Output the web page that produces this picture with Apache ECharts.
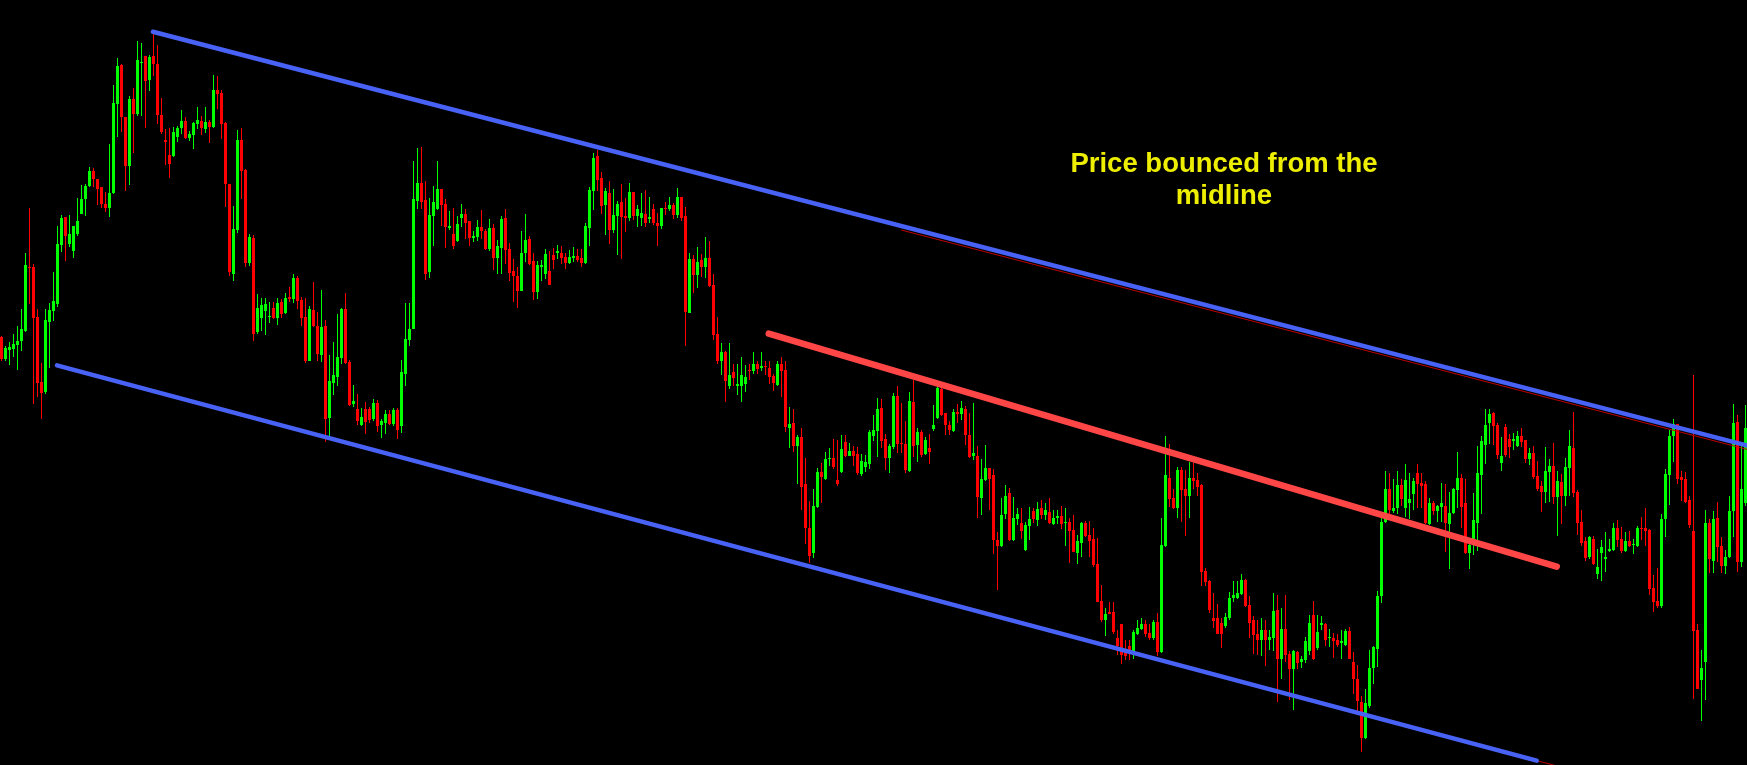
<!DOCTYPE html>
<html>
<head>
<meta charset="utf-8">
<script src="https://cdn.jsdelivr.net/npm/echarts@6/dist/echarts.min.js"></script>
<style>
html,body{margin:0;padding:0;background:#000;}
#chart{width:1747px;height:765px;}
</style>
</head>
<body>
<div id="chart"></div>
<script>
// Price data (points), one entry per bar
const openP = [
1710,1665,1684,1685,1694,1702,1723,1854,1853,1752,
1619,1597,1741,1763,1778,1898,1955,1900,1887,1920,
1962,1992,2020,2050,2033,2017,1982,1975,2004,2188,
2267,2160,2060,2198,2167,2271,2285,2237,2285,2270,
2165,2113,2082,2080,2119,2137,2152,2117,2123,2147,
2152,2136,2150,2140,2216,2209,2148,2023,1839,1929,
2113,2052,1862,1912,1720,1750,1763,1751,1769,1749,
1781,1759,1792,1787,1830,1785,1752,1660,1765,1732,
1673,1732,1545,1617,1629,1667,1767,1659,1572,1562,
1530,1562,1562,1542,1576,1530,1534,1552,1532,1560,
1527,1635,1703,1727,1988,2025,1990,1843,1957,1973,
2013,1982,1933,1920,1907,1953,1962,1947,1912,1914,
1935,1927,1890,1933,1871,1893,1953,1890,1845,1836,
1805,1882,1910,1865,1802,1853,1840,1845,1878,1882,
1883,1873,1861,1871,1876,1871,1862,1933,2010,2080,
2035,1980,2005,1929,1957,1986,1957,1953,2006,1957,
1953,1961,1951,1972,1943,1938,1974,1972,1980,1959,
1996,1957,1759,1869,1838,1867,1853,1871,1816,1717,
1660,1679,1610,1638,1610,1610,1613,1643,1640,1654,
1647,1650,1646,1630,1611,1654,1642,1523,1534,1488,
1506,1410,1319,1267,1363,1433,1420,1460,1463,1418,
1433,1496,1467,1476,1471,1430,1445,1451,1508,1517,
1564,1502,1463,1484,1590,1494,1492,1436,1578,1490,
1515,1471,1482,1521,1544,1603,1555,1531,1517,1557,
1553,1562,1510,1467,1467,1381,1418,1442,1427,1294,
1283,1347,1390,1295,1337,1330,1275,1323,1353,1335,
1360,1345,1352,1327,1340,1343,1330,1332,1315,1268,
1289,1329,1305,1296,1246,1169,1130,1147,1147,1093,
1123,1072,1077,1065,1103,1113,1123,1105,1093,1127,
1065,1282,1422,1380,1360,1437,1400,1385,1422,1417,
1407,1231,1210,1135,1135,1125,1118,1135,1175,1175,
1185,1212,1162,1130,1102,1089,1110,1089,1093,1152,
1050,1113,1062,1030,1065,1044,1048,1068,1142,1073,
1120,1122,1093,1095,1090,1083,1080,1108,1045,1010,
963,890,955,1032,1072,1180,1332,1400,1353,1360,
1408,1360,1370,1388,1432,1412,1410,1328,1370,1353,
1363,1365,1328,1350,1397,1422,1370,1268,1290,1330,
1427,1490,1534,1555,1531,1452,1525,1502,1498,1487,
1508,1500,1460,1472,1425,1405,1392,1433,1447,1383,
1413,1385,1443,1483,1392,1332,1292,1260,1297,1225,
1267,1255,1272,1275,1320,1297,1273,1292,1284,1282,
1320,1320,1315,1197,1170,1160,1337,1427,1507,1533,
1423,1420,1377,1313,1110,1008,1045,1330,1252,1340,
1282,1242,1260,1353,1537,1250,1370
];
const closeP = [
1665,1687,1689,1695,1702,1726,1857,1851,1750,1615,
1595,1745,1765,1783,1900,1953,1917,1922,1937,1948,
1992,2020,2050,2034,2013,1982,1974,2005,2190,2265,
2160,2060,2197,2167,2277,2273,2235,2283,2269,2165,
2129,2109,2065,2129,2139,2152,2117,2125,2148,2154,
2138,2150,2140,2216,2207,2147,2023,1843,1931,2113,
2050,1862,1914,1717,1769,1775,1777,1754,1749,1779,
1758,1789,1788,1830,1783,1750,1660,1767,1732,1675,
1730,1543,1621,1632,1669,1767,1656,1570,1580,1539,
1547,1536,1541,1576,1528,1538,1552,1532,1560,1520,
1638,1707,1726,1992,2025,1987,1840,1959,1986,2013,
1981,1935,1937,1897,1941,1962,1943,1912,1917,1935,
1928,1890,1933,1872,1897,1951,1889,1841,1835,1805,
1883,1908,1860,1802,1857,1857,1881,1817,1868,1886,
1872,1862,1873,1875,1867,1862,1938,2011,2077,2032,
1979,2010,1930,1959,1983,1956,1954,2006,1958,1972,
1965,1944,1955,1943,1937,1974,1972,1980,1959,1996,
1954,1762,1869,1837,1864,1853,1871,1814,1715,1660,
1679,1620,1633,1627,1613,1633,1629,1640,1655,1645,
1650,1648,1628,1615,1654,1640,1525,1532,1487,1506,
1403,1319,1262,1364,1433,1423,1460,1463,1445,1410,
1480,1467,1476,1467,1431,1457,1454,1515,1520,1562,
1498,1463,1486,1590,1492,1491,1437,1580,1488,1515,
1469,1500,1475,1531,1605,1551,1530,1520,1557,1553,
1564,1510,1465,1473,1382,1420,1443,1420,1295,1283,
1345,1385,1295,1340,1347,1312,1325,1337,1337,1359,
1345,1355,1330,1339,1343,1328,1332,1312,1270,1292,
1329,1302,1293,1243,1168,1130,1143,1144,1107,1078,
1060,1057,1065,1107,1115,1123,1103,1095,1127,1065,
1285,1427,1378,1360,1437,1397,1385,1422,1415,1403,
1230,1208,1152,1128,1103,1103,1137,1176,1182,1187,
1212,1160,1125,1100,1089,1110,1089,1097,1150,1050,
1113,1060,1030,1067,1043,1050,1088,1125,1050,1107,
1125,1090,1097,1087,1080,1087,1108,1052,1010,965,
890,960,1033,1075,1180,1332,1400,1355,1360,1407,
1378,1417,1378,1415,1410,1405,1330,1370,1353,1365,
1370,1330,1350,1400,1422,1363,1268,1285,1335,1432,
1498,1531,1552,1528,1468,1467,1468,1485,1502,1507,
1496,1460,1472,1423,1400,1392,1435,1447,1383,1415,
1385,1445,1488,1390,1330,1288,1258,1300,1245,1240,
1280,1260,1277,1320,1295,1273,1292,1283,1287,1320,
1317,1313,1195,1168,1160,1337,1429,1507,1533,1420,
1418,1373,1325,1108,990,1033,1330,1255,1338,1280,
1242,1260,1353,1535,1250,1400,1523
];
const lowP = [
1660,1662,1652,1670,1643,1682,1720,1778,1572,1588,
1542,1593,1647,1743,1772,1884,1865,1895,1872,1917,
1962,1958,2017,2018,1980,1975,1967,1955,2002,2120,
2130,2010,2022,2087,2163,2163,2138,2213,2245,2147,
2125,2063,2035,2078,2109,2125,2115,2111,2095,2135,
2124,2128,2107,2138,2177,2115,1977,1835,1824,1924,
1992,1853,1855,1702,1717,1723,1714,1738,1748,1735,
1749,1758,1782,1780,1768,1733,1657,1660,1730,1660,
1658,1495,1507,1592,1610,1655,1654,1568,1566,1530,
1528,1512,1535,1538,1515,1504,1511,1530,1528,1502,
1513,1610,1692,1727,1973,1973,1827,1830,1897,1970,
1938,1893,1930,1890,1904,1935,1910,1897,1905,1907,
1911,1888,1887,1848,1839,1839,1860,1825,1782,1770,
1805,1863,1858,1785,1787,1825,1828,1817,1850,1870,
1860,1849,1859,1863,1863,1853,1859,1897,1970,2009,
1962,1918,1900,1923,1879,1870,1925,1947,1950,1935,
1938,1935,1944,1939,1897,1931,1959,1969,1951,1954,
1948,1692,1759,1800,1810,1833,1830,1812,1705,1654,
1633,1577,1603,1610,1592,1578,1597,1622,1635,1635,
1640,1632,1613,1600,1609,1588,1515,1482,1474,1410,
1357,1287,1247,1257,1360,1370,1418,1447,1439,1405,
1432,1465,1466,1447,1428,1425,1433,1440,1497,1465,
1482,1437,1432,1480,1472,1473,1432,1433,1465,1454,
1465,1469,1450,1517,1542,1548,1509,1510,1515,1534,
1541,1490,1463,1458,1340,1345,1415,1357,1265,1192,
1280,1337,1292,1293,1325,1297,1272,1295,1330,1323,
1337,1335,1328,1325,1327,1318,1283,1248,1270,1245,
1260,1300,1260,1240,1168,1127,1098,1143,1103,1060,
1040,1048,1048,1052,1100,1110,1097,1090,1090,1057,
1063,1280,1362,1358,1340,1332,1303,1340,1400,1385,
1200,1200,1145,1115,1102,1073,1115,1130,1168,1173,
1182,1158,1095,1062,1060,1058,1037,1070,1068,963,
1010,1045,967,947,1030,1033,1043,1060,1048,1070,
1110,1078,1075,1053,1075,1050,1077,1050,980,945,
860,887,950,1000,1035,1165,1330,1348,1350,1348,
1364,1342,1338,1355,1360,1360,1328,1325,1345,1332,
1332,1270,1235,1348,1360,1320,1265,1235,1263,1273,
1348,1450,1492,1490,1460,1435,1465,1463,1478,1485,
1485,1452,1448,1420,1395,1352,1370,1372,1368,1302,
1327,1365,1385,1382,1305,1282,1252,1255,1243,1215,
1210,1230,1270,1273,1280,1268,1270,1280,1265,1280,
1295,1282,1182,1148,1155,1155,1300,1367,1455,1410,
1375,1370,1320,970,990,925,968,1228,1228,1250,
1228,1225,1258,1300,1230,1240,1365
];
const highP = [
1712,1692,1700,1717,1732,1768,1883,1974,1859,1768,
1657,1767,1780,1843,1937,1960,1955,1960,1937,1995,
2022,2024,2058,2057,2033,2017,2007,2105,2225,2281,
2270,2160,2203,2220,2316,2312,2285,2288,2330,2307,
2200,2135,2138,2140,2142,2175,2160,2132,2150,2180,
2162,2180,2154,2247,2245,2215,2150,2023,1978,2134,
2138,2055,1920,1918,1799,1789,1789,1781,1781,1789,
1787,1800,1812,1839,1834,1792,1790,1774,1822,1762,
1806,1744,1673,1700,1758,1770,1800,1663,1612,1594,
1564,1578,1566,1584,1582,1542,1560,1560,1565,1564,
1663,1779,1779,2070,2097,2100,2030,1994,2020,2070,
2013,1992,1968,1974,1957,1982,1972,1947,1927,1949,
1970,1932,1951,1942,1908,1957,1972,1902,1869,1854,
1927,1962,1917,1883,1865,1867,1890,1887,1893,1898,
1897,1882,1888,1894,1890,1891,1943,2017,2087,2092,
2048,2015,2030,2013,1989,2023,1995,2025,2006,1980,
2004,2011,1996,1982,1963,1974,1986,1996,1984,2016,
1996,1977,1883,1877,1894,1881,1914,1907,1840,1752,
1697,1681,1697,1655,1655,1670,1652,1655,1680,1662,
1680,1660,1660,1635,1662,1670,1662,1567,1562,1510,
1523,1462,1374,1399,1442,1452,1474,1482,1502,1500,
1510,1510,1493,1486,1484,1470,1469,1520,1550,1585,
1583,1512,1492,1595,1610,1575,1538,1598,1622,1523,
1520,1505,1512,1570,1612,1610,1555,1538,1563,1572,
1579,1568,1555,1575,1488,1460,1490,1442,1440,1310,
1380,1408,1402,1382,1360,1360,1332,1362,1360,1373,
1377,1370,1380,1357,1355,1365,1360,1340,1345,1305,
1332,1333,1333,1320,1298,1202,1155,1168,1167,1110,
1123,1090,1090,1110,1130,1134,1130,1123,1130,1145,
1340,1508,1492,1400,1445,1445,1437,1455,1452,1432,
1410,1238,1212,1187,1163,1135,1145,1188,1210,1210,
1225,1215,1180,1140,1130,1135,1130,1110,1187,1182,
1155,1182,1067,1070,1067,1057,1097,1142,1170,1142,
1138,1125,1112,1105,1102,1110,1112,1117,1065,1038,
975,990,1070,1078,1190,1340,1435,1432,1420,1435,
1420,1450,1432,1422,1450,1432,1415,1380,1375,1367,
1412,1410,1392,1402,1475,1430,1420,1295,1390,1488,
1508,1562,1562,1557,1534,1505,1533,1511,1513,1517,
1523,1500,1482,1488,1457,1415,1485,1460,1494,1435,
1430,1462,1520,1557,1397,1355,1300,1303,1302,1277,
1295,1310,1297,1330,1335,1322,1310,1313,1297,1323,
1342,1360,1317,1223,1237,1347,1440,1520,1543,1533,
1435,1433,1385,1633,1122,1070,1355,1337,1353,1373,
1300,1275,1385,1572,1550,1487,1570
];

// Trend lines: [bar position, price]
const upperChannel = [[37.75, 2335], [437.5, 1486]];
const upperEdge    = [[225, 1929], [437.5, 1478]];
const lowerChannel = [[13.75, 1652], [383.9, 843]];
const lowerEdge    = [[383.9, 843], [395, 819]];
const midline      = [[191.8, 1717], [388.9, 1240]];

const noteLines = ['Price bounced from the', 'midline'];

const bars = openP.map((_, i) => 'B' + (i + 1));
const rows = openP.map((o, i) => [i, o, closeP[i], lowP[i], highP[i]]);

const BULL = '#00ff00', BEAR = '#ff0000';

function renderCandle(params, api) {
  const i = api.value(0);
  const o = api.value(1), c = api.value(2), l = api.value(3), h = api.value(4);
  const pO = api.coord([i, o]), pC = api.coord([i, c]);
  const pL = api.coord([i, l]), pH = api.coord([i, h]);
  const x = Math.floor(pO[0]);
  const color = c >= o ? BULL : BEAR;
  const top = Math.round(Math.min(pO[1], pC[1]));
  const bot = Math.round(Math.max(pO[1], pC[1]));
  const wTop = Math.round(pH[1]), wBot = Math.round(pL[1]);
  return {
    type: 'group',
    children: [
      { type: 'rect', shape: { x: x, y: wTop, width: 1, height: Math.max(1, wBot - wTop) }, style: { fill: color } },
      { type: 'rect', shape: { x: x - 1, y: top, width: 3, height: Math.max(1, bot - top) }, style: { fill: color } }
    ]
  };
}

function trend(data, color, width, z) {
  return {
    type: 'line', xAxisIndex: 1, yAxisIndex: 0, data: data,
    symbol: 'none', silent: true, z: z, animation: false,
    lineStyle: { color: color, width: width, cap: 'round' }
  };
}

const chart = echarts.init(document.getElementById('chart'), null, { renderer: 'canvas' });
chart.setOption({
  backgroundColor: '#000000',
  animation: false,
  grid: { left: -0.5, top: 0, width: 1748, height: 765, containLabel: false },
  xAxis: [
    { type: 'category', data: bars, boundaryGap: true, show: false },
    { type: 'value', min: -0.5, max: 436.5, show: false }
  ],
  yAxis: { type: 'value', min: 834, max: 2400, show: false, splitLine: { show: false } },
  series: [
    {
      type: 'custom', data: rows, renderItem: renderCandle, silent: true, z: 2,
      encode: { x: 0, y: [1, 2, 3, 4] }, clip: true
    },
    trend(upperChannel, '#4862f6', 4.5, 5),
    trend(upperEdge, '#c00000', 1, 4),
    trend(lowerChannel, '#4862f6', 4.5, 5),
    trend(lowerEdge, '#c00000', 1, 4),
    trend(midline, '#ff4646', 6.5, 6)
  ],
  graphic: noteLines.map((t, k) => ({
    type: 'text', x: 1224, y: 164 + k * 32, silent: true, z: 100,
    style: { text: t, fill: '#eeee00', font: 'bold 27.5px "Liberation Sans", Arial, sans-serif', textAlign: 'center', textVerticalAlign: 'middle' }
  }))
});
</script>
</body>
</html>
